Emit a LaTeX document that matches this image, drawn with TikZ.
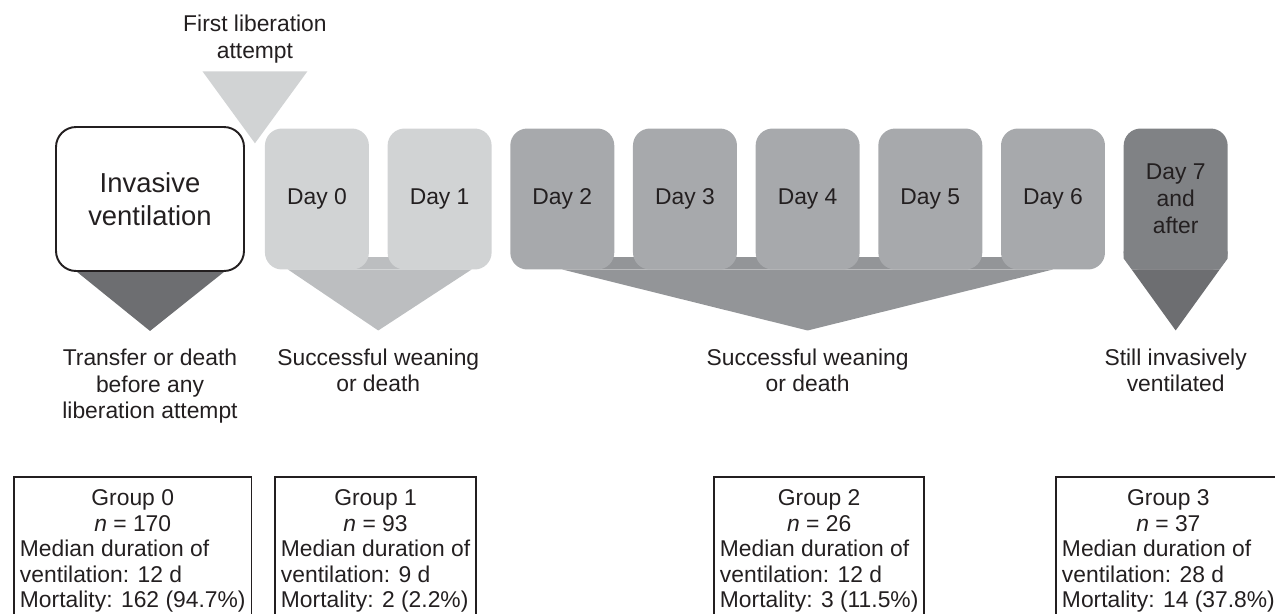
\documentclass[tikz,border=0pt]{standalone}
\usepackage{fontspec}
\setmainfont{Liberation Sans}
\usetikzlibrary{positioning,calc,backgrounds}
\definecolor{ink}{HTML}{231F20}
\definecolor{gray1}{HTML}{D1D3D4}
\definecolor{gray2}{HTML}{BCBEC0}
\definecolor{gray3}{HTML}{A7A9AC}
\definecolor{gray4}{HTML}{939598}
\definecolor{gray5}{HTML}{808285}
\definecolor{gray6}{HTML}{6D6E71}
\newcommand{\daysize}{\fontsize{13}{15.4}\selectfont}
\newcommand{\bigsize}{\fontsize{15.6}{18.8}\selectfont}
\newcommand{\lblsize}{\fontsize{13}{15.1}\selectfont}
\newcommand{\grpsize}{\fontsize{13}{14.5}\selectfont}
% group box text: title and n centred, the rest flush left
\newcommand{\grouptab}[4]{\begin{tabular}{@{}l@{}}
\multicolumn{1}{@{}c@{}}{Group #1}\\
\multicolumn{1}{@{}c@{}}{\textit{n} = #2}\\
Median duration of\\
ventilation: #3 d\\
Mortality: #4
\end{tabular}}
\tikzset{
daybox/.style={rounded corners=0.34cm, minimum width=2.08cm, minimum height=2.82cm, inner sep=0pt, outer sep=0pt, align=center, text=ink, font=\daysize},
invbox/.style={draw=ink, line width=1.1pt, fill=white, rounded corners=0.4cm, minimum width=3.76cm, minimum height=2.88cm, align=center, text=ink, font=\bigsize},
lbl/.style={inner sep=0pt, align=center, text=ink, font=\lblsize},
grpbox/.style={draw=ink, line width=1.1pt, inner xsep=0.12cm, inner ysep=0.22cm, text=ink, font=\grpsize},
}
\begin{document}
\begin{tikzpicture}[x=0.02cm, y=-0.02cm, node distance=0.374cm]
% pixel grid, y runs down
\useasboundingbox (0,0) rectangle (1275,613);
\clip (0,0) rectangle (1275,613);
% timeline
\node[invbox] (inv) at (150,199) {Invasive\\ventilation};
\node[daybox, fill=gray1, right=0.4cm of inv] (d0) {Day 0};
\node[daybox, fill=gray1, right=of d0] (d1) {Day 1};
\node[daybox, fill=gray3, right=of d1] (d2) {Day 2};
\node[daybox, fill=gray3, right=of d2] (d3) {Day 3};
\node[daybox, fill=gray3, right=of d3] (d4) {Day 4};
\node[daybox, fill=gray3, right=of d4] (d5) {Day 5};
\node[daybox, fill=gray3, right=of d5] (d6) {Day 6};
\node[daybox, fill=gray5, right=of d6] (d7) {Day 7\\and\\after};
% tips of the funnels
\coordinate (a0) at ($(inv.south)+(0,-1.18cm)$);
\coordinate (a1) at ($(d0.south)!0.5!(d1.south)+(0,-1.22cm)$);
\coordinate (a2) at ($(d2.south)!0.5!(d6.south)+(0,-1.22cm)$);
\coordinate (a3) at ($(d7.south)+(0,-1.22cm)$);
\coordinate (att) at ($(inv.north east)!0.5!(d0.north west)+(0,-0.32cm)$);
\begin{scope}[on background layer]
  \fill[gray6] ([xshift=0.44cm]inv.south west) -- ([xshift=-0.42cm]inv.south east) -- (a0) -- cycle;
  \fill[gray2] ([yshift=0.24cm]d0.south) rectangle (d1.south);
  \fill[gray2] ([xshift=0.46cm]d0.south west) -- ([xshift=-0.4cm]d1.south east) -- (a1) -- cycle;
  \fill[gray4] ([yshift=0.24cm]d2.south) rectangle (d6.south);
  \fill[gray4] (d2.south) -- (d6.south) -- (a2) -- cycle;
\end{scope}
\fill[gray5] ([yshift=0.36cm]d7.south west) -- ([yshift=0.22cm]d7.south west) -- ([xshift=0.16cm]d7.south west)
  -- ([xshift=-0.16cm]d7.south east) -- ([yshift=0.22cm]d7.south east) -- ([yshift=0.36cm]d7.south east) -- cycle;
\fill[gray6] ([xshift=0.16cm]d7.south west) -- ([xshift=-0.16cm]d7.south east) -- (a3) -- cycle;
% first attempt marker
\fill[gray1] (att) -- ++(-1.05cm,1.44cm) -- ++(2.1cm,0) -- cycle;
\node[lbl, above=1.6cm of att] (first) {First liberation\\attempt};
% outcomes
\node[lbl, below=0.36cm of a0] (out0) {Transfer or death\\before any\\liberation attempt};
\node[lbl, below=0.36cm of a1] (out1) {Successful weaning\\or death};
\node[lbl, below=0.36cm of a2] (out2) {Successful weaning\\or death};
\node[lbl, below=0.36cm of a3] (out3) {Still invasively\\ventilated};
% groups
\node[grpbox, anchor=north west] (g0) at (13,476) {\grouptab{0}{170}{12}{162 (94.7\%)}};
\node[grpbox, anchor=north west] (g1) at (274,476) {\grouptab{1}{93}{9}{2 (2.2\%)}};
\node[grpbox, anchor=north west] (g2) at (713,476) {\grouptab{2}{26}{12}{3 (11.5\%)}};
\node[grpbox, anchor=north west] (g3) at (1055,476) {\grouptab{3}{37}{28}{14 (37.8\%)}};
\end{tikzpicture}
\end{document}
